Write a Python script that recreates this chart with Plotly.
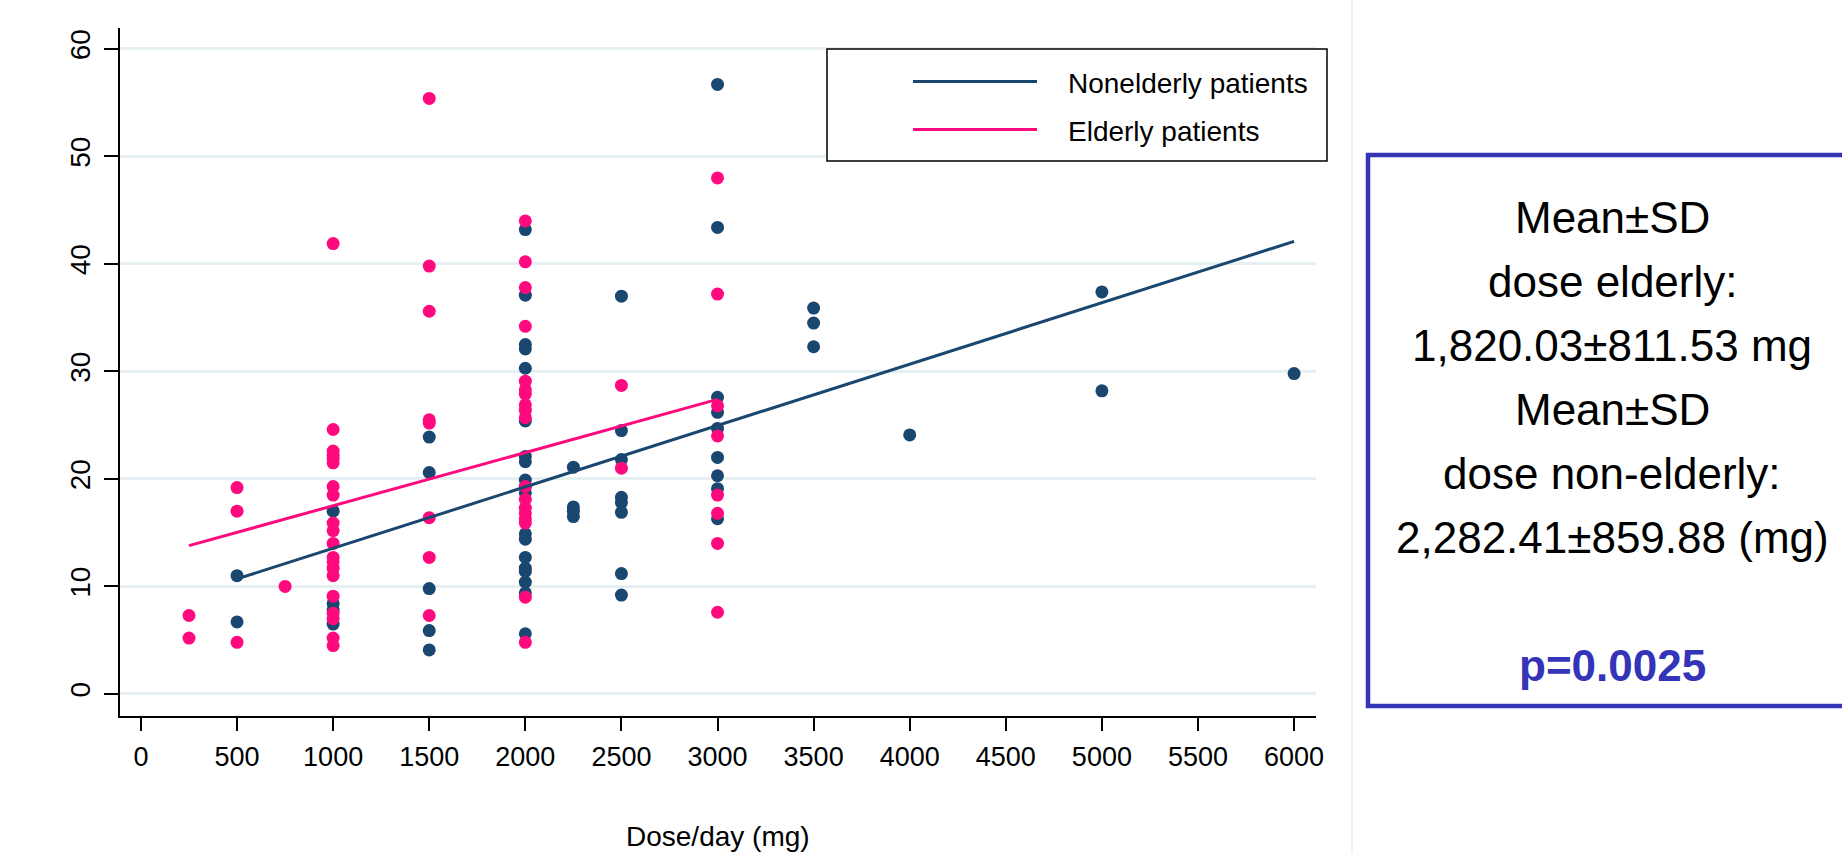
import plotly.graph_objects as go

# Daily dose (mg) versus outcome, by age group
nonelderly_dose = (
    [500] * 2 + [1000] * 4 + [1500] * 5 + [2000] * 19 + [2250] * 4
    + [2500] * 8 + [3000] * 9 + [3500] * 3 + [4000] + [5000] * 2 + [6000]
)
nonelderly_value = [
    11.0, 6.7,
    17.0, 8.4, 7.8, 6.5,
    23.9, 20.6, 9.8, 5.9, 4.1,
    43.2, 37.1, 32.5, 32.1, 30.3, 25.4, 22.1, 21.6, 19.9, 19.3, 18.7,
    14.9, 14.4, 12.7, 11.7, 11.4, 10.4, 9.4, 5.6,
    21.1, 17.4, 17.0, 16.5,
    37.0, 24.5, 21.8, 18.3, 17.8, 16.9, 11.2, 9.2,
    56.7, 43.4, 27.6, 26.2, 24.7, 22.0, 20.3, 19.1, 16.3,
    35.9, 34.5, 32.3,
    24.1,
    37.4, 28.2,
    29.8,
]

elderly_dose = (
    [250] * 2 + [500] * 3 + [750] + [1000] * 20 + [1500] * 8
    + [2000] * 18 + [2500] * 2 + [3000] * 8
)
elderly_value = [
    7.3, 5.2,
    19.2, 17.0, 4.8,
    10.0,
    41.9, 24.6, 22.6, 22.2, 21.9, 21.5, 19.3, 18.5, 15.9, 15.2, 14.0,
    12.7, 12.3, 11.7, 11.0, 9.1, 7.5, 7.0, 5.2, 4.5,
    55.4, 39.8, 35.6, 25.5, 25.2, 16.4, 12.7, 7.3,
    44.0, 40.2, 37.8, 34.2, 29.1, 28.3, 27.9, 26.9, 26.4, 25.7,
    19.3, 18.1, 17.3, 16.8, 16.3, 15.9, 9.0, 4.8,
    28.7, 21.0,
    48.0, 37.2, 26.8, 24.0, 18.5, 16.8, 14.0, 7.6,
]

# Linear fits (end points over each group's dose range)
nonelderly_fit_x = [500, 6000]
nonelderly_fit_y = [10.7, 42.1]
elderly_fit_x = [250, 3000]
elderly_fit_y = [13.8, 27.4]

x_ticks = list(range(0, 6001, 500))
y_ticks = list(range(0, 61, 10))

legend_labels = ["Nonelderly patients", "Elderly patients"]
stats_lines = [
    "Mean±SD",
    "dose elderly:",
    "1,820.03±811.53 mg",
    "Mean±SD",
    "dose non-elderly:",
    "2,282.41±859.88 (mg)",
]
p_text = "p=0.0025"
x_title = "Dose/day (mg)"

NAVY = "#1a476f"
PINK = "#ff0a7e"
BOX_BLUE = "#3434b8"
GRID = "#e6eff1"
FONT = "Liberation Sans, Arial, sans-serif"

# page geometry (pixels)
WIDTH, HEIGHT = 1842, 854
L, R, T, B = 120, 526, 28, 138
PW = WIDTH - L - R
PH = HEIGHT - T - B


def px_x(p):
    return (p - L) / PW


def px_y(p):
    return (HEIGHT - B - p) / PH


fig = go.Figure()

fig.add_trace(go.Scatter(
    x=nonelderly_dose, y=nonelderly_value, mode="markers",
    marker=dict(color=NAVY, size=13, line=dict(width=0)),
    showlegend=False, hoverinfo="x+y",
))
fig.add_trace(go.Scatter(
    x=elderly_dose, y=elderly_value, mode="markers",
    marker=dict(color=PINK, size=13, line=dict(width=0)),
    showlegend=False, hoverinfo="x+y",
))
fig.add_trace(go.Scatter(
    x=nonelderly_fit_x, y=nonelderly_fit_y, mode="lines",
    line=dict(color=NAVY, width=3), name=legend_labels[0], showlegend=False,
))
fig.add_trace(go.Scatter(
    x=elderly_fit_x, y=elderly_fit_y, mode="lines",
    line=dict(color=PINK, width=3), name=legend_labels[1], showlegend=False,
))

shapes = []
annotations = []

# legend frame, keys and labels
shapes.append(dict(type="rect", xref="paper", yref="paper",
                   x0=px_x(827), x1=px_x(1327), y0=px_y(161), y1=px_y(49),
                   line=dict(color="black", width=1.5), fillcolor="white", layer="above"))
for key_y, color, label in zip([81.5, 129.5], [NAVY, PINK], legend_labels):
    shapes.append(dict(type="line", xref="paper", yref="paper",
                       x0=px_x(913), x1=px_x(1037), y0=px_y(key_y), y1=px_y(key_y),
                       line=dict(color=color, width=3), layer="above"))
    annotations.append(dict(xref="paper", yref="paper", x=px_x(1066), y=px_y(key_y + 2),
                            xanchor="left", yanchor="middle", showarrow=False,
                            text=label, font=dict(family=FONT, size=28, color="black")))

# faint outer edge of the graph region
shapes.append(dict(type="line", xref="paper", yref="paper",
                   x0=px_x(1352), x1=px_x(1352), y0=px_y(HEIGHT), y1=px_y(0),
                   line=dict(color="#edf1f3", width=2)))

# statistics box
shapes.append(dict(type="rect", xref="paper", yref="paper",
                   x0=px_x(1368), x1=px_x(1870), y0=px_y(706), y1=px_y(155),
                   line=dict(color=BOX_BLUE, width=4.5)))
baselines = [233, 297, 361, 425, 489, 553]
FS = 44
for text, base in zip(stats_lines, baselines):
    annotations.append(dict(xref="paper", yref="paper", x=px_x(1612), y=px_y(base - 0.36 * FS),
                            xanchor="center", yanchor="middle", showarrow=False,
                            text=text, font=dict(family=FONT, size=FS, color="black")))
annotations.append(dict(xref="paper", yref="paper", x=px_x(1612), y=px_y(681 - 0.36 * FS),
                        xanchor="center", yanchor="middle", showarrow=False,
                        text=f"<b>{p_text}</b>",
                        font=dict(family=FONT, size=FS, color=BOX_BLUE)))

# x-axis title
annotations.append(dict(xref="paper", yref="paper", x=0.5, y=px_y(836),
                        xanchor="center", yanchor="middle", showarrow=False,
                        text=x_title, font=dict(family=FONT, size=28, color="black")))

fig.update_layout(
    width=WIDTH, height=HEIGHT, autosize=False,
    margin=dict(l=L, r=R, t=T, b=B, pad=0),
    paper_bgcolor="white", plot_bgcolor="white",
    font=dict(family=FONT, color="black"),
    shapes=shapes, annotations=annotations,
    showlegend=False,
)
fig.update_xaxes(
    range=[-109, 6114], tickvals=x_ticks, ticktext=[str(v) for v in x_ticks],
    showgrid=False, zeroline=False,
    showline=True, linecolor="black", linewidth=2,
    ticks="outside", ticklen=13, tickwidth=2, tickcolor="black",
    tickfont=dict(family=FONT, size=27, color="black"),
    ticklabelstandoff=3,
)
fig.update_yaxes(
    range=[-2.05, 61.95], tickvals=y_ticks, ticktext=[str(v) for v in y_ticks],
    showgrid=True, gridcolor=GRID, gridwidth=2.5, zeroline=False,
    showline=True, linecolor="black", linewidth=2,
    ticks="outside", ticklen=14, tickwidth=2, tickcolor="black",
    tickangle=-90,
    tickfont=dict(family=FONT, size=28, color="black"),
    ticklabelstandoff=3,
)

fig.write_html("out.html")
